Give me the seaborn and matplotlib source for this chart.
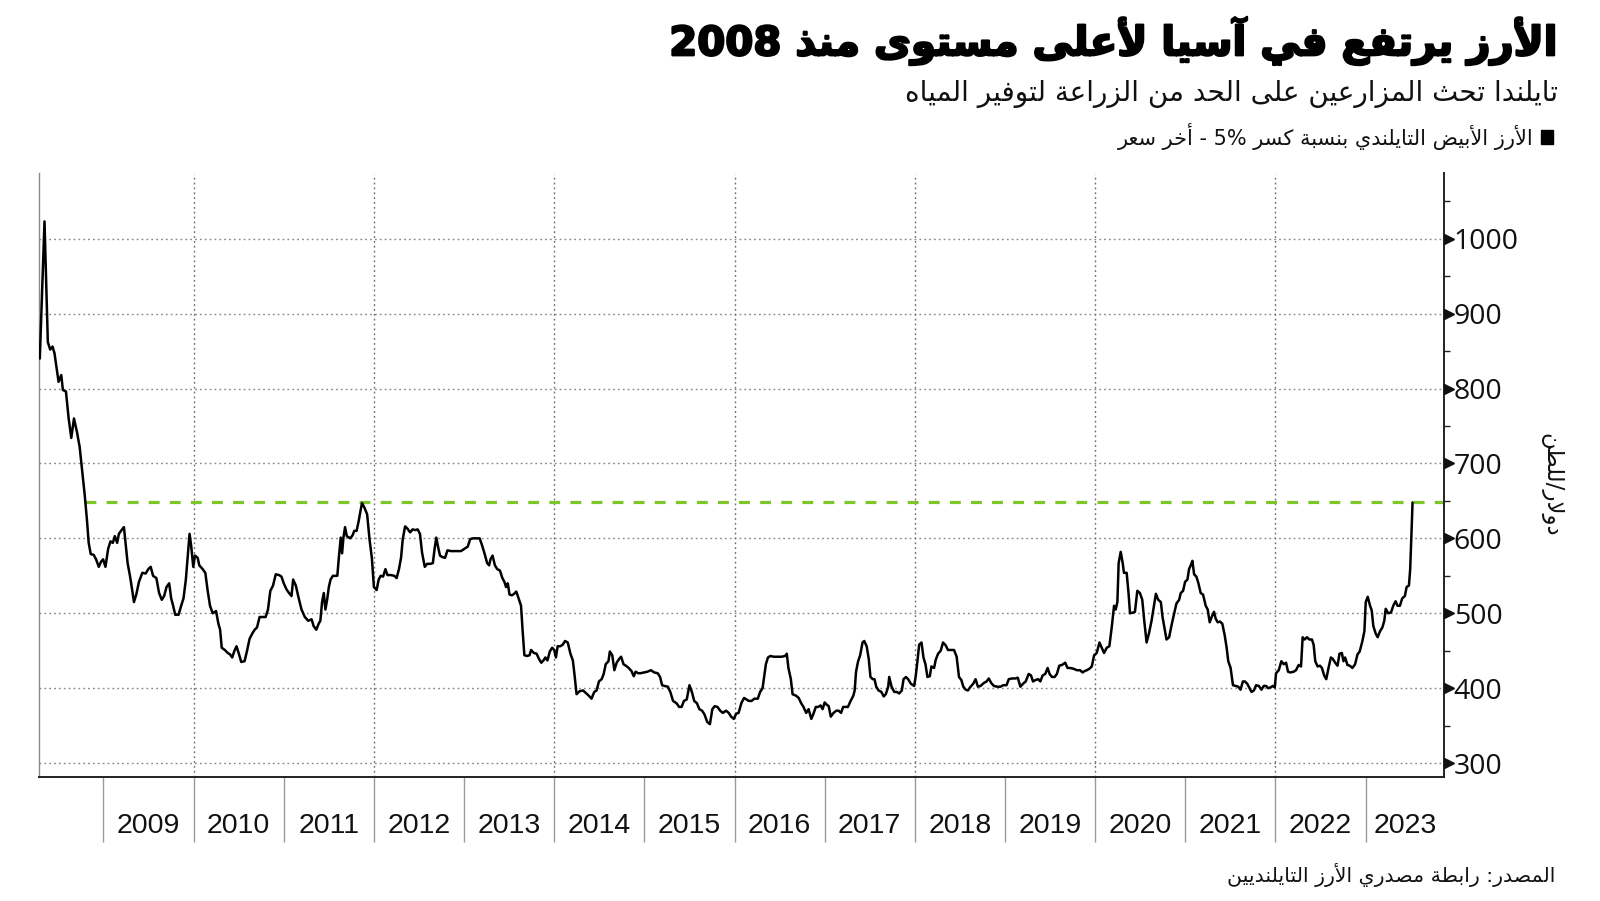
import re
import numpy as np
import pandas as pd
import matplotlib
matplotlib.use("Agg")
import matplotlib.pyplot as plt
import matplotlib.transforms as mtransforms
import matplotlib.patheffects as pe
from matplotlib.patches import Rectangle
from matplotlib.ticker import MultipleLocator, FixedLocator, NullFormatter
from matplotlib import font_manager
import seaborn as sns

# ---------------- data ----------------
dates_a = [2008.294, 2008.346, 2008.383, 2008.409, 2008.435, 2008.457, 2008.483, 2008.502, 2008.532, 2008.550,
           2008.584, 2008.613, 2008.643, 2008.673, 2008.706, 2008.736, 2008.762, 2008.792, 2008.818, 2008.836,
           2008.859, 2008.892, 2008.918, 2008.948, 2008.974, 2008.996, 2009.022, 2009.052, 2009.078, 2009.104,
           2009.126, 2009.152, 2009.171, 2009.201, 2009.227, 2009.245, 2009.268, 2009.294, 2009.320, 2009.338,
           2009.364, 2009.394, 2009.431, 2009.468, 2009.498, 2009.524, 2009.550, 2009.587, 2009.617, 2009.647,
           2009.673, 2009.699, 2009.729, 2009.751, 2009.773, 2009.796, 2009.833, 2009.862, 2009.888, 2009.914,
           2009.937, 2009.955, 2009.974, 2009.996, 2010.015, 2010.045, 2010.063, 2010.100, 2010.130, 2010.156,
           2010.182, 2010.212, 2010.249, 2010.275, 2010.294, 2010.312, 2010.346, 2010.379, 2010.405, 2010.428,
           2010.450, 2010.476, 2010.502, 2010.528, 2010.565, 2010.591, 2010.621, 2010.651, 2010.677, 2010.703,
           2010.732, 2010.762, 2010.799, 2010.825, 2010.851, 2010.881, 2010.911, 2010.948, 2010.974, 2011.000,
           2011.030, 2011.059, 2011.086, 2011.104, 2011.134, 2011.160, 2011.197, 2011.234, 2011.271, 2011.309]
prices_a = [840, 1023, 862, 852, 856, 847, 825, 809, 818, 798,
            796, 761, 734, 760, 742, 722, 692, 658, 623, 594,
            579, 578, 572, 562, 569, 572, 562, 586, 596, 594,
            603, 594, 606, 611, 615, 594, 567, 550, 530, 515,
            525, 542, 554, 553, 559, 562, 550, 547, 527, 518,
            523, 535, 540, 520, 510, 498, 498, 510, 520, 545,
            579, 606, 589, 562, 577, 574, 564, 559, 554, 530,
            510, 500, 503, 486, 478, 454, 451, 447, 445, 441,
            449, 456, 446, 435, 436, 449, 466, 473, 478, 481,
            495, 495, 495, 505, 530, 537, 552, 551, 549, 540,
            532, 527, 523, 545, 537, 523, 505, 495, 490, 492]

dates_b = [2011.331, 2011.361, 2011.387, 2011.406, 2011.425, 2011.444, 2011.462, 2011.481, 2011.500, 2011.519,
           2011.545, 2011.575, 2011.594, 2011.613, 2011.632, 2011.647, 2011.662, 2011.680, 2011.699, 2011.737,
           2011.763, 2011.782, 2011.808, 2011.831, 2011.850, 2011.868, 2011.895, 2011.925, 2011.951, 2011.977,
           2012.000, 2012.030, 2012.053, 2012.075, 2012.102, 2012.128, 2012.150, 2012.188, 2012.226, 2012.252,
           2012.278, 2012.301, 2012.320, 2012.346, 2012.372, 2012.402, 2012.429, 2012.459, 2012.485, 2012.511,
           2012.534, 2012.564, 2012.590, 2012.628, 2012.654, 2012.673, 2012.692, 2012.711, 2012.733, 2012.759,
           2012.789, 2012.816, 2012.853, 2012.910, 2012.966, 2013.004, 2013.041, 2013.068, 2013.098, 2013.135,
           2013.173, 2013.199, 2013.229, 2013.256, 2013.278, 2013.293, 2013.316, 2013.342, 2013.368, 2013.398,
           2013.425, 2013.447, 2013.466, 2013.485, 2013.504, 2013.530, 2013.556, 2013.579, 2013.605, 2013.632,
           2013.650, 2013.669, 2013.699, 2013.726, 2013.744, 2013.774, 2013.805, 2013.831, 2013.857, 2013.880,
           2013.902, 2013.925, 2013.951, 2013.977, 2014.000, 2014.019, 2014.038, 2014.068, 2014.094, 2014.120,
           2014.150, 2014.180, 2014.207, 2014.226, 2014.248, 2014.282, 2014.320, 2014.357, 2014.383, 2014.414,
           2014.444, 2014.470, 2014.496, 2014.526, 2014.549, 2014.571, 2014.602]
prices_b = [483, 478, 486, 490, 515, 527, 505, 518, 535, 545,
            550, 550, 550, 577, 601, 580, 601, 615, 603, 600,
            604, 610, 610, 623, 636, 647, 641, 632, 599, 574,
            535, 531, 545, 550, 549, 559, 551, 551, 550, 547,
            559, 574, 599, 616, 613, 608, 612, 611, 612, 606,
            581, 562, 566, 566, 567, 586, 601, 589, 577, 575,
            574, 584, 583, 583, 583, 586, 589, 599, 600, 600,
            600, 591, 579, 567, 564, 572, 577, 564, 559, 557,
            547, 542, 535, 540, 525, 524, 526, 529, 520, 510,
            476, 444, 443, 444, 451, 447, 446, 439, 434, 437,
            441, 437, 449, 454, 451, 441, 456, 456, 458, 463,
            461, 446, 437, 417, 392, 396, 397, 393, 390, 386,
            395, 397, 409, 412, 419, 432, 436]

dates_c = [2014.617, 2014.644, 2014.667, 2014.693, 2014.720, 2014.742, 2014.769, 2014.795, 2014.826, 2014.856,
           2014.883, 2014.902, 2014.932, 2014.958, 2014.996, 2015.034, 2015.072, 2015.110, 2015.148, 2015.174,
           2015.197, 2015.223, 2015.261, 2015.288, 2015.318, 2015.356, 2015.386, 2015.413, 2015.439, 2015.470,
           2015.500, 2015.527, 2015.553, 2015.583, 2015.610, 2015.640, 2015.667, 2015.697, 2015.727, 2015.754,
           2015.780, 2015.811, 2015.841, 2015.871, 2015.905, 2015.936, 2015.962, 2015.992, 2016.019, 2016.045,
           2016.076, 2016.106, 2016.133, 2016.159, 2016.189, 2016.220, 2016.258, 2016.284, 2016.311, 2016.330,
           2016.348, 2016.371, 2016.398, 2016.436, 2016.473, 2016.523, 2016.561, 2016.580, 2016.598, 2016.625,
           2016.644, 2016.682, 2016.712, 2016.739, 2016.765, 2016.795, 2016.822, 2016.852, 2016.879, 2016.902,
           2016.928, 2016.955, 2016.977, 2017.000, 2017.023, 2017.045, 2017.068, 2017.098, 2017.129, 2017.155,
           2017.182, 2017.205, 2017.231, 2017.258, 2017.288, 2017.318, 2017.333, 2017.348, 2017.371, 2017.394,
           2017.420, 2017.439, 2017.466, 2017.489, 2017.508, 2017.534, 2017.553, 2017.572, 2017.598, 2017.629,
           2017.655, 2017.678, 2017.705]
prices_c = [449, 444, 424, 434, 439, 442, 432, 430, 427, 423,
            416, 422, 420, 420, 421, 422, 424, 421, 420, 415,
            404, 403, 402, 395, 383, 380, 375, 375, 383, 385,
            404, 395, 383, 380, 372, 370, 365, 355, 352, 372,
            376, 375, 370, 367, 370, 367, 362, 359, 366, 367,
            380, 387, 385, 383, 383, 386, 386, 395, 400, 417,
            432, 441, 443, 442, 442, 442, 443, 446, 427, 412,
            392, 390, 387, 380, 375, 367, 372, 359, 367, 375,
            375, 377, 372, 381, 378, 376, 362, 367, 370, 370,
            367, 375, 375, 375, 383, 390, 397, 422, 436, 444,
            461, 463, 456, 439, 415, 412, 412, 402, 397, 395,
            389, 392, 402]

dates_d = [2017.716, 2017.742, 2017.772, 2017.801, 2017.827, 2017.856, 2017.875, 2017.901, 2017.926, 2017.956,
           2017.993, 2018.011, 2018.029, 2018.048, 2018.074, 2018.096, 2018.118, 2018.140, 2018.166, 2018.184,
           2018.214, 2018.232, 2018.258, 2018.287, 2018.313, 2018.343, 2018.368, 2018.398, 2018.435, 2018.464,
           2018.490, 2018.516, 2018.538, 2018.564, 2018.589, 2018.619, 2018.648, 2018.674, 2018.700, 2018.729,
           2018.766, 2018.796, 2018.821, 2018.847, 2018.877, 2018.913, 2018.950, 2018.980, 2019.017, 2019.042,
           2019.079, 2019.116, 2019.142, 2019.171, 2019.201, 2019.230, 2019.263, 2019.289, 2019.311, 2019.341,
           2019.370, 2019.392, 2019.418, 2019.447, 2019.473, 2019.495, 2019.521, 2019.551, 2019.576, 2019.602,
           2019.632, 2019.668, 2019.694, 2019.724, 2019.760, 2019.797, 2019.834, 2019.860, 2019.886, 2019.908,
           2019.937, 2019.963, 2019.989, 2020.018, 2020.048, 2020.073, 2020.099, 2020.129, 2020.158, 2020.184,
           2020.210, 2020.228, 2020.247, 2020.261, 2020.284, 2020.306, 2020.320, 2020.350, 2020.372, 2020.387,
           2020.423, 2020.442, 2020.468, 2020.497, 2020.523, 2020.545, 2020.571, 2020.597, 2020.626, 2020.652,
           2020.674, 2020.700, 2020.729, 2020.748]
prices_d = [415, 402, 395, 395, 393, 397, 412, 415, 412, 406,
            403, 417, 436, 458, 461, 441, 432, 415, 416, 429,
            427, 438, 446, 450, 461, 457, 451, 451, 451, 442,
            415, 411, 402, 398, 397, 402, 406, 412, 402, 403,
            407, 409, 413, 407, 403, 402, 402, 404, 404, 412,
            413, 413, 414, 402, 406, 409, 419, 417, 409, 411,
            412, 409, 417, 419, 427, 419, 415, 415, 419, 430,
            431, 434, 427, 427, 426, 424, 424, 421, 423, 424,
            426, 429, 444, 447, 461, 454, 447, 454, 456, 481,
            510, 505, 515, 567, 582, 567, 554, 554, 525, 500,
            501, 502, 530, 527, 518, 490, 461, 473, 490, 510,
            526, 518, 515, 495]

dates_e = [2020.792, 2020.821, 2020.851, 2020.877, 2020.902, 2020.932, 2020.950, 2020.976, 2020.998, 2021.024,
           2021.042, 2021.061, 2021.079, 2021.098, 2021.123, 2021.146, 2021.171, 2021.197, 2021.227, 2021.249,
           2021.271, 2021.293, 2021.319, 2021.337, 2021.359, 2021.385, 2021.411, 2021.437, 2021.459, 2021.477,
           2021.503, 2021.529, 2021.558, 2021.588, 2021.613, 2021.639, 2021.661, 2021.687, 2021.713, 2021.735,
           2021.761, 2021.786, 2021.816, 2021.845, 2021.871, 2021.897, 2021.919, 2021.945, 2021.971, 2021.993,
           2022.007, 2022.037, 2022.066, 2022.092, 2022.118, 2022.140, 2022.166, 2022.203, 2022.228, 2022.258,
           2022.284, 2022.302, 2022.324, 2022.350, 2022.376, 2022.405, 2022.424, 2022.442, 2022.468, 2022.494,
           2022.516, 2022.541, 2022.564, 2022.589, 2022.615, 2022.637, 2022.663, 2022.689, 2022.711, 2022.737,
           2022.755, 2022.773, 2022.799, 2022.825, 2022.854, 2022.884, 2022.910, 2022.935, 2022.965, 2022.987,
           2023.002, 2023.024, 2023.050, 2023.068, 2023.086, 2023.112, 2023.134, 2023.160, 2023.186, 2023.208,
           2023.223, 2023.252, 2023.282, 2023.307, 2023.333, 2023.355, 2023.381, 2023.407, 2023.436, 2023.455,
           2023.481, 2023.495, 2023.506, 2023.514, 2023.521]
prices_e = [465, 468, 486, 500, 513, 518, 527, 530, 542, 545,
            559, 564, 570, 552, 549, 540, 527, 525, 510, 505,
            488, 495, 502, 493, 488, 489, 486, 471, 454, 436,
            427, 404, 403, 402, 398, 409, 409, 406, 400, 395,
            397, 404, 403, 398, 403, 403, 400, 401, 403, 401,
            420, 424, 436, 432, 434, 422, 421, 422, 424, 431,
            429, 468, 465, 468, 465, 465, 458, 436, 429, 430,
            427, 417, 412, 427, 441, 439, 434, 430, 446, 447,
            436, 441, 431, 430, 427, 432, 445, 449, 463, 476,
            515, 522, 510, 504, 483, 473, 468, 476, 481, 490,
            506, 500, 501, 510, 516, 510, 510, 520, 523, 535,
            537, 559, 594, 623, 648]

ref_level = 648          # latest price, drawn as the dashed green level
ref_start = 2008.79      # first time the 2008 decline crossed that level
years = list(range(2009, 2024))
grid_years = [2010, 2012, 2014, 2016, 2018, 2020, 2022]
y_major = [300, 400, 500, 600, 700, 800, 900, 1000]
x_limits = (2008.285, 2023.87)
y_limits = (282, 1087)

title = "الأرز يرتفع في آسيا لأعلى مستوى منذ 2008"
subtitle = "تايلندا تحث المزارعين على الحد من الزراعة لتوفير المياه"
legend_label = "الأرز الأبيض التايلندي بنسبة كسر 5% - أخر سعر"
y_label = "دولار/للطن"
source = "المصدر: رابطة مصدري الأرز التايلنديين"

# ---------------- Arabic shaping (presentation forms + RTL order) ----------------
AR = {
    '\u0621': (0xFE80, 1), '\u0622': (0xFE81, 2), '\u0623': (0xFE83, 2), '\u0624': (0xFE85, 2),
    '\u0625': (0xFE87, 2), '\u0626': (0xFE89, 4), '\u0627': (0xFE8D, 2), '\u0628': (0xFE8F, 4),
    '\u0629': (0xFE93, 2), '\u062A': (0xFE95, 4), '\u062B': (0xFE99, 4), '\u062C': (0xFE9D, 4),
    '\u062D': (0xFEA1, 4), '\u062E': (0xFEA5, 4), '\u062F': (0xFEA9, 2), '\u0630': (0xFEAB, 2),
    '\u0631': (0xFEAD, 2), '\u0632': (0xFEAF, 2), '\u0633': (0xFEB1, 4), '\u0634': (0xFEB5, 4),
    '\u0635': (0xFEB9, 4), '\u0636': (0xFEBD, 4), '\u0637': (0xFEC1, 4), '\u0638': (0xFEC5, 4),
    '\u0639': (0xFEC9, 4), '\u063A': (0xFECD, 4), '\u0641': (0xFED1, 4), '\u0642': (0xFED5, 4),
    '\u0643': (0xFED9, 4), '\u0644': (0xFEDD, 4), '\u0645': (0xFEE1, 4), '\u0646': (0xFEE5, 4),
    '\u0647': (0xFEE9, 4), '\u0648': (0xFEED, 2), '\u0649': (0xFEEF, 2), '\u064A': (0xFEF1, 4),
}
LAMALEF = {'\u0622': 0xFEF5, '\u0623': 0xFEF7, '\u0625': 0xFEF9, '\u0627': 0xFEFB}


def shape(text):
    units = []
    i = 0
    while i < len(text):
        c = text[i]
        if c == '\u0644' and i + 1 < len(text) and text[i + 1] in LAMALEF:
            units.append(('A', LAMALEF[text[i + 1]], 2))
            i += 2
            continue
        if c in AR:
            b, n = AR[c]
            units.append(('A', b, n))
        else:
            units.append(('X', c, 0))
        i += 1
    out = []
    for k, u in enumerate(units):
        if u[0] == 'X':
            out.append(u[1])
            continue
        _, b, n = u
        prev = units[k - 1] if k > 0 else None
        nxt = units[k + 1] if k + 1 < len(units) else None
        jp = prev is not None and prev[0] == 'A' and prev[2] == 4 and n >= 2
        jn = nxt is not None and nxt[0] == 'A' and n == 4 and nxt[2] >= 2
        f = 3 if (jp and jn) else 1 if jp else 2 if jn else 0
        out.append(chr(b + f))
    s = ''.join(out)[::-1]
    s = re.sub(r'[0-9%][0-9%.,]*', lambda m: m.group()[::-1], s)
    return s


# ---------------- style ----------------
sns.set_theme(style="white")
plt.rcParams['font.family'] = ['DejaVu Sans']
names = {f.name for f in font_manager.fontManager.ttflist}
year_font = 'Liberation Sans Narrow' if 'Liberation Sans Narrow' in names else 'Liberation Sans'
tick_font = 'Open Sans' if 'Open Sans' in names else 'DejaVu Sans'

W, H = 1600, 901
fig = plt.figure(figsize=(W / 100, H / 100), dpi=100)
fig.patch.set_facecolor('white')
ax = fig.add_axes([39 / W, 1 - 776.6 / H, (1444 - 39) / W, (776.6 - 173.5) / H])
ax.set_facecolor('white')

df = pd.DataFrame({'date': dates_a + dates_b + dates_c + dates_d + dates_e,
                   'price': prices_a + prices_b + prices_c + prices_d + prices_e})

# grid
for yv in y_major:
    ax.axhline(yv, color='#8a8a8a', lw=1.0, ls=(0, (1.3, 2.2)), zorder=1)
for gx in grid_years:
    ax.axvline(gx, color='#6e6e6e', lw=1.0, ls=(0, (1.3, 2.2)), zorder=1)

ax.hlines(ref_level, ref_start, x_limits[1], colors='#7cc62a', lw=2.3,
          linestyles=[(0, (3.4, 3.2))], zorder=2)

sns.lineplot(data=df, x='date', y='price', ax=ax, color='black', lw=1.8,
             estimator=None, sort=False, zorder=3)

ax.set_xlim(*x_limits)
ax.set_ylim(*y_limits)
ax.set_xlabel('')
ax.set_ylabel('')

# spines
ax.spines['top'].set_visible(False)
ax.spines['left'].set_color('#8a8a8a')
ax.spines['left'].set_linewidth(1.0)
ax.spines['bottom'].set_color('#222222')
ax.spines['bottom'].set_linewidth(1.4)
ax.spines['right'].set_color('#222222')
ax.spines['right'].set_linewidth(1.4)

# y axis on right
ax.yaxis.tick_right()
ax.yaxis.set_major_locator(FixedLocator(y_major))
ax.yaxis.set_minor_locator(MultipleLocator(50))
ax.yaxis.set_minor_formatter(NullFormatter())
ax.tick_params(axis='y', which='major', length=0, pad=7, labelsize=20.5,
               labelcolor='#111111', left=False, right=True)
ax.tick_params(axis='y', which='minor', length=4.5, width=1.0, color='#222222',
               direction='out', left=False, right=True)
for lab in ax.get_yticklabels():
    lab.set_fontfamily(tick_font)
# triangular major tick marks
tri_tr = mtransforms.blended_transform_factory(ax.transAxes, ax.transData) + \
    mtransforms.ScaledTranslation(4.5 / 100, 0, fig.dpi_scale_trans)
ax.plot(np.ones(len(y_major)), y_major, ls='none', marker='>', ms=7.5, color='#111111',
        transform=tri_tr, clip_on=False, zorder=5)

# x axis: year boundaries as long ticks, labels at centres
ax.xaxis.set_major_locator(FixedLocator(years))
ax.xaxis.set_major_formatter(NullFormatter())
centres = [(max(y, x_limits[0]) + min(y + 1, x_limits[1])) / 2 for y in years]
ax.xaxis.set_minor_locator(FixedLocator(centres))
ax.set_xticklabels([str(y) for y in years], minor=True)
ax.tick_params(axis='x', which='major', length=47, width=1.0, color='#9a9a9a',
               direction='out', bottom=True)
ax.tick_params(axis='x', which='minor', length=0, pad=26, labelsize=20.5,
               labelcolor='#111111', bottom=True)
for lab in ax.get_xticklabels(minor=True):
    lab.set_fontfamily(year_font)

# texts
fig.text(1557 / W, 1 - 41 / H, shape(title), ha='right', va='center',
         fontsize=29, fontweight='bold', color='black',
         path_effects=[pe.withStroke(linewidth=1.6, foreground='black')])
fig.text(1558 / W, 1 - 94 / H, shape(subtitle), ha='right', va='center',
         fontsize=20, color='#111111')
fig.patches.append(Rectangle((1541 / W, 1 - 144 / H), 12 / W, 14 / H,
                             transform=fig.transFigure, color='black', figure=fig))
fig.text(1534 / W, 1 - 137 / H, shape(legend_label), ha='right', va='center',
         fontsize=15, color='#111111')
fig.text(1551 / W, 1 - 485 / H, shape(y_label), ha='center', va='center',
         rotation=-90, fontsize=16.5, color='#111111')
fig.text(1555 / W, 1 - 875 / H, shape(source), ha='right', va='center',
         fontsize=14.7, color='#111111')

fig.savefig('out.png', dpi=100, facecolor='white')
